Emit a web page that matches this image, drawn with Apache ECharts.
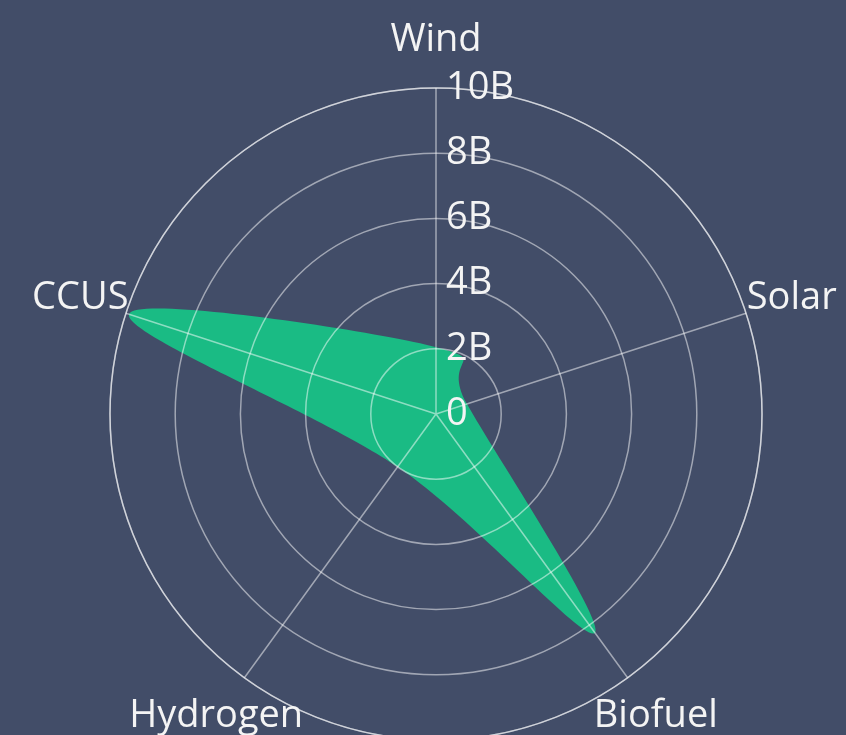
<!DOCTYPE html>
<html>
<head>
<meta charset="utf-8">
<script src="https://cdn.jsdelivr.net/npm/echarts@6/dist/echarts.min.js"></script>
<style>
  html, body { margin: 0; padding: 0; background: #424d68; }
  #chart { width: 846px; height: 735px; }
</style>
</head>
<body>
<div id="chart"></div>
<script>
// ---- data ----
const indicators = ['Wind', 'Solar', 'Biofuel', 'Hydrogen', 'CCUS'];
const values = [2.05e9, 1.0e9, 8.3e9, 2.0e9, 9.9e9];
const radiusMax = 10e9;
const radiusStep = 2e9;

const FONT_FAMILY = '"Open Sans", "Noto Sans", sans-serif';
const FONT = '38px ' + FONT_FAMILY;
const TEXT = '#f4f4f4';
const GRID = 'rgba(255,255,255,0.5)';
const AREA = '#1abb84';
const stepAngle = 360 / indicators.length;

const chart = echarts.init(document.getElementById('chart'), null, { renderer: 'canvas' });

const seriesData = values.map((v, i) => [v, i * stepAngle]);

function renderItem(params, api) {
  if (params.dataIndex !== 0) return null;
  const pts = seriesData.map(d => api.coord(d));
  const n = pts.length;
  const P = i => pts[(i + n) % n];
  let d = 'M' + pts[0][0] + ',' + pts[0][1];
  for (let i = 0; i < n; i++) {
    const p0 = P(i - 1), p1 = P(i), p2 = P(i + 1), p3 = P(i + 2);
    const c1 = [p1[0] + (p2[0] - p0[0]) / 6, p1[1] + (p2[1] - p0[1]) / 6];
    const c2 = [p2[0] - (p3[0] - p1[0]) / 6, p2[1] - (p3[1] - p1[1]) / 6];
    d += 'C' + c1[0] + ',' + c1[1] + ',' + c2[0] + ',' + c2[1] + ',' + p2[0] + ',' + p2[1];
  }
  d += 'Z';
  return {
    type: 'path',
    shape: { pathData: d },
    style: { fill: AREA, stroke: null }
  };
}

function renderLabels(params, api) {
  const i = params.dataIndex;
  const ang = i * stepAngle;
  const c = api.coord([0, ang]);
  const e = api.coord([radiusMax, ang]);
  const dx = e[0] - c[0], dy = e[1] - c[1];
  const len = Math.sqrt(dx * dx + dy * dy);
  const gap = 48;
  return {
    type: 'text',
    x: e[0] + dx / len * gap,
    y: e[1] + dy / len * gap,
    style: {
      text: indicators[i],
      fill: TEXT,
      font: FONT,
      align: 'center',
      verticalAlign: 'middle'
    }
  };
}

chart.setOption({
  backgroundColor: '#424d68',
  animation: false,
  polar: { center: [436, 414], radius: 326 },
  angleAxis: {
    type: 'value', min: 0, max: 360, interval: stepAngle,
    startAngle: 90, clockwise: true, z: 5,
    axisLine: { show: true, lineStyle: { color: GRID, width: 1.5 } },
    axisTick: { show: false },
    axisLabel: { show: false },
    splitLine: { show: true, lineStyle: { color: GRID, width: 1.5 } }
  },
  radiusAxis: {
    type: 'value', min: 0, max: radiusMax, interval: radiusStep, z: 5,
    axisLine: { show: false },
    axisTick: { show: false },
    axisLabel: {
      show: true, margin: -10, align: 'left', verticalAlign: 'middle',
      padding: [8, 0, 0, 0],
      color: TEXT, fontSize: 38,
      fontFamily: FONT_FAMILY,
      formatter: v => v === 0 ? '0' : (v / 1e9) + 'B'
    },
    splitLine: { show: true, lineStyle: { color: GRID, width: 1.5 } }
  },
  series: [
    { type: 'custom', coordinateSystem: 'polar', z: 1, renderItem, data: seriesData, silent: true },
    { type: 'custom', coordinateSystem: 'polar', z: 6, renderItem: renderLabels, data: seriesData, silent: true }
  ]
});
</script>
</body>
</html>
